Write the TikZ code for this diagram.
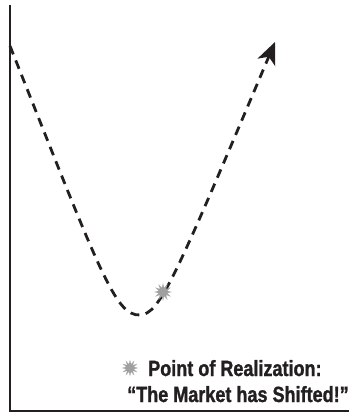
\documentclass[tikz,border=0pt]{standalone}
\usepackage{fontspec}
\setmainfont{Liberation Sans}
\newfontfamily\condfont[FakeStretch=0.82,FakeBold=1.2]{Liberation Sans}
\usetikzlibrary{shapes.geometric,arrows.meta}
\definecolor{ink}{HTML}{231F20}
\definecolor{burst}{HTML}{A0A0A0}
\tikzset{
  axisline/.style={ink, line width=2pt},
  curveline/.style={ink, line width=2.8pt, dash pattern=on 9pt off 6.5pt,
    -{Stealth[length=22pt,width=19pt,inset=6pt]}},
  starburst/.style={star, star points=12, star point ratio=2.1, minimum size=18pt,
    inner sep=0pt, fill=burst, draw=none},
  labeltext/.style={anchor=base west, inner sep=0pt, text=ink,
    font=\condfont\bfseries\fontsize{22}{26}\selectfont}
}
\begin{document}
\begin{tikzpicture}[x=1pt,y=-1pt]
\useasboundingbox (0,0) rectangle (349,414);
\coordinate (top) at (10,5);
\coordinate (origin) at (10,411);
\coordinate (right) at (349,411);
\draw[axisline] (top) -- (origin) -- (right);
\coordinate (start) at (10,46);
\coordinate (low) at (140,315);
\coordinate (tip) at (275,42);
\draw[curveline] (start) .. controls (100,272) and (115,316) .. (low)
  .. controls (160,314) and (175,278) .. (tip);
\node[starburst] (s1) at (163,292) {};
\node[starburst, minimum size=17pt] (s2) at (130,368) {};
\node[labeltext] (l1) at (148,376) {Point of Realization:};
\node[labeltext] (l2) at (127,402) {“The Market has Shifted!”};
\end{tikzpicture}
\end{document}
